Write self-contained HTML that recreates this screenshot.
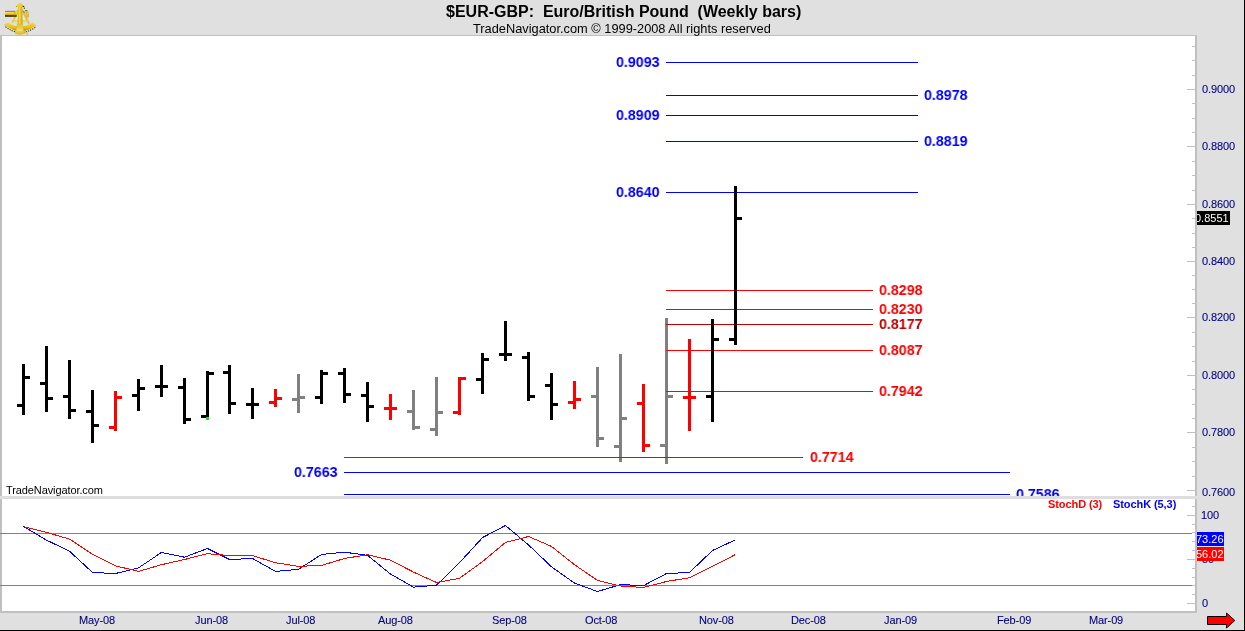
<!DOCTYPE html>
<html><head><meta charset="utf-8"><title>$EUR-GBP</title>
<style>
html,body{margin:0;padding:0;}
body{width:1245px;height:631px;overflow:hidden;background:#e0e0e0;position:relative;font-family:"Liberation Sans",sans-serif;}
svg{position:absolute;left:0;top:0;}
.t{position:absolute;white-space:pre;line-height:1;will-change:transform;}
.b14{font-size:15px;font-weight:bold;transform:scaleX(0.95);transform-origin:0 0;}
.ax{font-size:11px;color:#000080;letter-spacing:-0.12px;-webkit-text-stroke:0.1px #000080;}
</style></head><body>

<svg width="1245" height="631" viewBox="0 0 1245 631" shape-rendering="crispEdges">
<rect x="0" y="35" width="1197" height="578" fill="#c0c0c0"/>
<rect x="2" y="36" width="1193" height="460" fill="#ffffff"/>
<rect x="0" y="496" width="1197" height="3" fill="#dedede"/>
<rect x="2" y="499" width="1193" height="112" fill="#ffffff"/>
<rect x="0" y="613" width="1197" height="20" fill="#e0e0e0"/>
<rect x="1244" y="0" width="1" height="631" fill="#000"/>
<rect x="0" y="630" width="1245" height="1" fill="#000"/>
<rect x="1187" y="89" width="8" height="1" fill="#c0c0c0"/>
<rect x="1192" y="103" width="3" height="1" fill="#c0c0c0"/>
<rect x="1192" y="118" width="3" height="1" fill="#c0c0c0"/>
<rect x="1192" y="132" width="3" height="1" fill="#c0c0c0"/>
<rect x="1187" y="146" width="8" height="1" fill="#c0c0c0"/>
<rect x="1192" y="161" width="3" height="1" fill="#c0c0c0"/>
<rect x="1192" y="175" width="3" height="1" fill="#c0c0c0"/>
<rect x="1192" y="190" width="3" height="1" fill="#c0c0c0"/>
<rect x="1187" y="204" width="8" height="1" fill="#c0c0c0"/>
<rect x="1192" y="218" width="3" height="1" fill="#c0c0c0"/>
<rect x="1192" y="233" width="3" height="1" fill="#c0c0c0"/>
<rect x="1192" y="247" width="3" height="1" fill="#c0c0c0"/>
<rect x="1187" y="261" width="8" height="1" fill="#c0c0c0"/>
<rect x="1192" y="275" width="3" height="1" fill="#c0c0c0"/>
<rect x="1192" y="289" width="3" height="1" fill="#c0c0c0"/>
<rect x="1192" y="303" width="3" height="1" fill="#c0c0c0"/>
<rect x="1187" y="317" width="8" height="1" fill="#c0c0c0"/>
<rect x="1192" y="332" width="3" height="1" fill="#c0c0c0"/>
<rect x="1192" y="346" width="3" height="1" fill="#c0c0c0"/>
<rect x="1192" y="361" width="3" height="1" fill="#c0c0c0"/>
<rect x="1187" y="375" width="8" height="1" fill="#c0c0c0"/>
<rect x="1192" y="389" width="3" height="1" fill="#c0c0c0"/>
<rect x="1192" y="404" width="3" height="1" fill="#c0c0c0"/>
<rect x="1192" y="418" width="3" height="1" fill="#c0c0c0"/>
<rect x="1187" y="432" width="8" height="1" fill="#c0c0c0"/>
<rect x="1192" y="447" width="3" height="1" fill="#c0c0c0"/>
<rect x="1192" y="461" width="3" height="1" fill="#c0c0c0"/>
<rect x="1192" y="476" width="3" height="1" fill="#c0c0c0"/>
<rect x="1187" y="490" width="8" height="1" fill="#c0c0c0"/>
<rect x="1192" y="75" width="3" height="1" fill="#c0c0c0"/>
<rect x="1192" y="60" width="3" height="1" fill="#c0c0c0"/>
<rect x="1192" y="46" width="3" height="1" fill="#c0c0c0"/>
<rect x="1187" y="603" width="8" height="1" fill="#c0c0c0"/>
<rect x="1192" y="594" width="3" height="1" fill="#c0c0c0"/>
<rect x="1192" y="585" width="3" height="1" fill="#c0c0c0"/>
<rect x="1192" y="577" width="3" height="1" fill="#c0c0c0"/>
<rect x="1192" y="568" width="3" height="1" fill="#c0c0c0"/>
<rect x="1187" y="559" width="8" height="1" fill="#c0c0c0"/>
<rect x="1192" y="550" width="3" height="1" fill="#c0c0c0"/>
<rect x="1192" y="541" width="3" height="1" fill="#c0c0c0"/>
<rect x="1192" y="532" width="3" height="1" fill="#c0c0c0"/>
<rect x="1192" y="524" width="3" height="1" fill="#c0c0c0"/>
<rect x="1187" y="515" width="8" height="1" fill="#c0c0c0"/>
<rect x="1192" y="506" width="3" height="1" fill="#c0c0c0"/>
<rect x="0" y="533" width="1192" height="1" fill="#808080"/>
<rect x="0" y="585" width="1192" height="1" fill="#808080"/>
<rect x="114" y="391" width="3" height="40" fill="#ff0000"/>
<rect x="109" y="426" width="5" height="3" fill="#ff0000"/>
<rect x="117" y="396" width="5" height="3" fill="#ff0000"/>
<rect x="274" y="389" width="3" height="18" fill="#ff0000"/>
<rect x="269" y="401" width="5" height="3" fill="#ff0000"/>
<rect x="277" y="397" width="5" height="3" fill="#ff0000"/>
<rect x="297" y="374" width="3" height="39" fill="#808080"/>
<rect x="292" y="398" width="5" height="3" fill="#808080"/>
<rect x="300" y="396" width="5" height="3" fill="#808080"/>
<rect x="389" y="394" width="3" height="26" fill="#ff0000"/>
<rect x="384" y="407" width="5" height="3" fill="#ff0000"/>
<rect x="392" y="407" width="5" height="3" fill="#ff0000"/>
<rect x="412" y="390" width="3" height="40" fill="#808080"/>
<rect x="407" y="410" width="5" height="3" fill="#808080"/>
<rect x="415" y="426" width="5" height="3" fill="#808080"/>
<rect x="435" y="377" width="3" height="59" fill="#808080"/>
<rect x="430" y="428" width="5" height="3" fill="#808080"/>
<rect x="438" y="411" width="5" height="3" fill="#808080"/>
<rect x="458" y="377" width="3" height="38" fill="#ff0000"/>
<rect x="453" y="411" width="5" height="3" fill="#ff0000"/>
<rect x="461" y="377" width="5" height="3" fill="#ff0000"/>
<rect x="573" y="381" width="3" height="28" fill="#ff0000"/>
<rect x="568" y="401" width="5" height="3" fill="#ff0000"/>
<rect x="576" y="398" width="5" height="3" fill="#ff0000"/>
<rect x="596" y="367" width="3" height="80" fill="#808080"/>
<rect x="591" y="395" width="5" height="3" fill="#808080"/>
<rect x="599" y="437" width="5" height="3" fill="#808080"/>
<rect x="619" y="354" width="3" height="108" fill="#808080"/>
<rect x="614" y="445" width="5" height="3" fill="#808080"/>
<rect x="622" y="417" width="5" height="3" fill="#808080"/>
<rect x="642" y="384" width="3" height="68" fill="#ff0000"/>
<rect x="637" y="402" width="5" height="3" fill="#ff0000"/>
<rect x="645" y="444" width="5" height="3" fill="#ff0000"/>
<rect x="665" y="318" width="3" height="146" fill="#808080"/>
<rect x="660" y="444" width="5" height="3" fill="#808080"/>
<rect x="668" y="395" width="5" height="3" fill="#808080"/>
<rect x="688" y="339" width="3" height="92" fill="#ff0000"/>
<rect x="683" y="396" width="5" height="3" fill="#ff0000"/>
<rect x="691" y="396" width="5" height="3" fill="#ff0000"/>
<rect x="666" y="62" width="252" height="1" fill="#0000ff"/>
<rect x="666" y="95" width="252" height="1" fill="#0000ff"/>
<rect x="666" y="115" width="252" height="1" fill="#0000ff"/>
<rect x="666" y="141" width="252" height="1" fill="#0000ff"/>
<rect x="666" y="192" width="252" height="1" fill="#0000ff"/>
<rect x="344" y="472" width="666" height="1" fill="#0000ff"/>
<rect x="344" y="494" width="666" height="1" fill="#0000ff"/>
<rect x="666" y="290" width="207" height="1" fill="#ff0000"/>
<rect x="666" y="309" width="207" height="1" fill="#ff0000"/>
<rect x="666" y="350" width="207" height="1" fill="#ff0000"/>
<rect x="666" y="391" width="207" height="1" fill="#ff0000"/>
<rect x="666" y="324" width="207" height="1" fill="#c00000"/>
<rect x="344" y="457" width="459" height="1" fill="#ff0000"/>
<rect x="22" y="364" width="3" height="51" fill="#000000"/>
<rect x="17" y="404" width="5" height="3" fill="#000000"/>
<rect x="25" y="376" width="5" height="3" fill="#000000"/>
<rect x="45" y="346" width="3" height="66" fill="#000000"/>
<rect x="40" y="382" width="5" height="3" fill="#000000"/>
<rect x="48" y="397" width="5" height="3" fill="#000000"/>
<rect x="68" y="360" width="3" height="59" fill="#000000"/>
<rect x="63" y="395" width="5" height="3" fill="#000000"/>
<rect x="71" y="409" width="5" height="3" fill="#000000"/>
<rect x="91" y="390" width="3" height="53" fill="#000000"/>
<rect x="86" y="410" width="5" height="3" fill="#000000"/>
<rect x="94" y="424" width="5" height="3" fill="#000000"/>
<rect x="137" y="379" width="3" height="32" fill="#000000"/>
<rect x="132" y="394" width="5" height="3" fill="#000000"/>
<rect x="140" y="387" width="5" height="3" fill="#000000"/>
<rect x="160" y="365" width="3" height="32" fill="#000000"/>
<rect x="155" y="385" width="5" height="3" fill="#000000"/>
<rect x="163" y="385" width="5" height="3" fill="#000000"/>
<rect x="183" y="378" width="3" height="46" fill="#000000"/>
<rect x="178" y="386" width="5" height="3" fill="#000000"/>
<rect x="186" y="418" width="5" height="3" fill="#000000"/>
<rect x="206" y="371" width="3" height="49" fill="#000000"/>
<rect x="201" y="415" width="5" height="3" fill="#000000"/>
<rect x="209" y="372" width="5" height="3" fill="#000000"/>
<rect x="228" y="365" width="3" height="49" fill="#000000"/>
<rect x="223" y="371" width="5" height="3" fill="#000000"/>
<rect x="231" y="402" width="5" height="3" fill="#000000"/>
<rect x="251" y="388" width="3" height="31" fill="#000000"/>
<rect x="246" y="403" width="5" height="3" fill="#000000"/>
<rect x="254" y="403" width="5" height="3" fill="#000000"/>
<rect x="320" y="370" width="3" height="34" fill="#000000"/>
<rect x="315" y="396" width="5" height="3" fill="#000000"/>
<rect x="323" y="372" width="5" height="3" fill="#000000"/>
<rect x="343" y="368" width="3" height="35" fill="#000000"/>
<rect x="338" y="372" width="5" height="3" fill="#000000"/>
<rect x="346" y="393" width="5" height="3" fill="#000000"/>
<rect x="366" y="382" width="3" height="40" fill="#000000"/>
<rect x="361" y="394" width="5" height="3" fill="#000000"/>
<rect x="369" y="405" width="5" height="3" fill="#000000"/>
<rect x="481" y="353" width="3" height="41" fill="#000000"/>
<rect x="476" y="378" width="5" height="3" fill="#000000"/>
<rect x="484" y="358" width="5" height="3" fill="#000000"/>
<rect x="504" y="321" width="3" height="40" fill="#000000"/>
<rect x="499" y="353" width="5" height="3" fill="#000000"/>
<rect x="507" y="353" width="5" height="3" fill="#000000"/>
<rect x="527" y="352" width="3" height="49" fill="#000000"/>
<rect x="522" y="356" width="5" height="3" fill="#000000"/>
<rect x="530" y="395" width="5" height="3" fill="#000000"/>
<rect x="550" y="373" width="3" height="47" fill="#000000"/>
<rect x="545" y="384" width="5" height="3" fill="#000000"/>
<rect x="553" y="403" width="5" height="3" fill="#000000"/>
<rect x="711" y="319" width="3" height="103" fill="#000000"/>
<rect x="706" y="395" width="5" height="3" fill="#000000"/>
<rect x="714" y="338" width="5" height="3" fill="#000000"/>
<rect x="734" y="186" width="3" height="159" fill="#000000"/>
<rect x="729" y="338" width="5" height="3" fill="#000000"/>
<rect x="737" y="217" width="5" height="3" fill="#000000"/>
<rect x="206" y="417" width="3" height="3" fill="#00f000"/>
</svg>
<svg width="1245" height="631" viewBox="0 0 1245 631" shape-rendering="crispEdges">
<polyline points="23.5,526.5 46.5,540.1 69.5,551.2 92.5,572.5 115.5,573.5 138.5,567.9 161.5,552.4 184.5,557.2 207.5,548.5 229.5,559.5 252.5,558.5 275.5,571.4 298.5,569.3 321.5,554.5 344.5,552.2 367.5,555.3 390.5,574.1 413.5,587.1 436.5,585.2 459.5,562.7 482.5,537.6 505.5,525.5 528.5,544.9 551.5,566.8 574.5,583.1 597.5,591.5 620.5,584.6 643.5,585.6 666.5,573.5 689.5,572.5 712.5,550.5 735.5,539.8" fill="none" stroke="#0000ff" stroke-width="1"/>
<polyline points="23.5,526.7 46.5,532.4 69.5,539.1 92.5,554.3 115.5,565.8 138.5,571.4 161.5,564.7 184.5,559.5 207.5,553.7 229.5,555.6 252.5,555.6 275.5,562.7 298.5,566.4 321.5,565.4 344.5,558.5 367.5,554.7 390.5,560.2 413.5,572.1 436.5,582.5 459.5,578.3 482.5,561.6 505.5,542.4 528.5,536.5 551.5,546.4 574.5,564.7 597.5,580.4 620.5,586.0 643.5,587.5 666.5,581.5 689.5,577.7 712.5,566.4 735.5,554.5" fill="none" stroke="#ff0000" stroke-width="1"/>
</svg>
<svg width="40" height="36" viewBox="0 0 40 36" style="left:0;top:0;">
<defs>
<linearGradient id="gA" x1="0" y1="0" x2="1" y2="0"><stop offset="0" stop-color="#d4ac08"/><stop offset="0.4" stop-color="#f4da38"/><stop offset="0.75" stop-color="#e2bc14"/><stop offset="1" stop-color="#b08a00"/></linearGradient>
<linearGradient id="gB" x1="0" y1="0" x2="0" y2="1"><stop offset="0" stop-color="#e6c420"/><stop offset="0.5" stop-color="#ecd458"/><stop offset="1" stop-color="#e2c020"/></linearGradient>
<linearGradient id="gT" x1="0" y1="0" x2="0" y2="1"><stop offset="0" stop-color="#f2dc50"/><stop offset="0.3" stop-color="#f0d430"/><stop offset="0.62" stop-color="#c8a000"/><stop offset="0.76" stop-color="#3c2e00"/><stop offset="1" stop-color="#1e1600"/></linearGradient>
<linearGradient id="gL" x1="0" y1="0" x2="0" y2="1"><stop offset="0" stop-color="#f6de40"/><stop offset="0.65" stop-color="#e4bc10"/><stop offset="1" stop-color="#a88400"/></linearGradient>
</defs>
<!-- pale glints between legs -->
<path d="M14.2 20.2 L17.5 14 L17.5 20.2 Z M22.6 13 L26.4 20.2 L22.6 20.2 Z" fill="#e6e2ec"/>
<!-- frame legs -->
<path d="M18.3 11.5 L12 22.6" stroke="#e8c828" stroke-width="1.6" fill="none"/>
<path d="M16.4 11.6 L18.6 9.6" stroke="#e8c828" stroke-width="1.6" fill="none"/>
<path d="M22 9.8 L29 23.6" stroke="#e4c220" stroke-width="2" fill="none"/>
<path d="M13 20.9 H28.4" stroke="#ecd040" stroke-width="1.3" fill="none"/>
<path d="M13.6 22.3 H27.6" stroke="#d8d2f4" stroke-width="0.7" fill="none"/>
<!-- mirror bracket -->
<path d="M25 10.6 L27.6 10.4 L28.6 13.4 L28.4 17.6 L26.4 16.4 L26.2 13.5 Z" fill="#e6c62c" stroke="#c09c08" stroke-width="0.4"/>
<rect x="25.2" y="10" width="2" height="0.9" fill="#6a6450"/>
<path d="M23.4 11 L24.6 13" stroke="#8078d8" stroke-width="1.3"/>
<!-- limb arc shadow -->
<path d="M5.4 26.6 Q20 38 35.3 27.4" stroke="#4a3a00" stroke-width="1.1" fill="none" stroke-dasharray="1.3 1.1"/>
<!-- limb arc -->
<path d="M4.5 24.7 L7.9 22.2 Q20 30.8 32.8 22.2 L35.9 25.8 Q20 37 4.5 24.7 Z" fill="url(#gL)"/>
<path d="M4.3 24.6 L5.2 25.6" stroke="#9a92d0" stroke-width="0.8"/>
<path d="M35.4 26.6 L36 25.9" stroke="#9a92d0" stroke-width="0.7"/>
<!-- telescope -->
<rect x="5" y="10.8" width="10.4" height="1.2" fill="#8a80d0"/>
<rect x="5" y="11.9" width="11.7" height="4.9" rx="0.5" fill="url(#gT)"/>
<rect x="14.5" y="11.9" width="0.8" height="4.4" fill="#b89400" opacity="0.7"/>
<!-- index arm -->
<path d="M18.1 6.9 H22.1 L22.5 24 H17.6 Z" fill="url(#gA)"/>
<path d="M17.5 24 H22.6 L24.4 33.6 Q19.7 35.4 15 33.6 Z" fill="url(#gB)" stroke="#c8a410" stroke-width="0.3"/>
<rect x="17.3" y="29.5" width="5" height="1.6" fill="#efe08a" opacity="0.8"/>
<!-- top knob -->
<path d="M16.8 6.9 L17.4 4.6 L19.8 2.8 L22.4 4 L23.6 6.9 Z" fill="#efd030"/>
<path d="M15.9 6 H17.1 V7 H15.9 Z" fill="#b89400"/>
<path d="M22.5 5.8 L24.2 6 L24.2 6.9 L22.7 7 Z" fill="#1e1600"/>
<path d="M23.8 7.6 H24.8 V8.9 H23.8 Z" fill="#5a4600"/>
<!-- bottom knob -->
<path d="M24.6 32.4 H28 V35 H26.9 V33.8 H24.6 Z" fill="#e8c628"/>
</svg>
<svg width="1245" height="631" viewBox="0 0 1245 631"><path d="M1207.5 616.5H1226.5V613L1234.8 620.5L1226.5 628V624.5H1207.5Z" fill="#ff0000" stroke="#000" stroke-width="1" stroke-linejoin="miter"/></svg>
<div class="t " style="left:446px;top:4px;font-size:16px;font-weight:bold;color:#000;">$EUR-GBP:  Euro/British Pound  (Weekly bars)</div>
<div class="t " style="left:473px;top:23px;font-size:12.8px;color:#000;">TradeNavigator.com © 1999-2008 All rights reserved</div>
<div class="t b14" style="left:616px;top:54px;color:#0000ff;">0.9093</div>
<div class="t b14" style="left:616px;top:107px;color:#0000ff;">0.8909</div>
<div class="t b14" style="left:616px;top:184px;color:#0000ff;">0.8640</div>
<div class="t b14" style="left:294px;top:464px;color:#0000ff;">0.7663</div>
<div class="t b14" style="left:924px;top:87px;color:#0000ff;">0.8978</div>
<div class="t b14" style="left:924px;top:133px;color:#0000ff;">0.8819</div>
<div style="position:absolute;left:1010px;top:480px;width:100px;height:16px;overflow:hidden;"><div class="t b14" style="left:6px;top:6px;color:#0000ff;">0.7586</div></div>
<div class="t b14" style="left:879px;top:282px;color:#ff0000;">0.8298</div>
<div class="t b14" style="left:879px;top:301px;color:#ff0000;">0.8230</div>
<div class="t b14" style="left:879px;top:316px;color:#c00000;">0.8177</div>
<div class="t b14" style="left:879px;top:342px;color:#ff0000;">0.8087</div>
<div class="t b14" style="left:879px;top:383px;color:#ff0000;">0.7942</div>
<div class="t b14" style="left:810px;top:449px;color:#ff0000;">0.7714</div>
<div class="t ax" style="left:1202px;top:84px;">0.9000</div>
<div class="t ax" style="left:1202px;top:141px;">0.8800</div>
<div class="t ax" style="left:1202px;top:199px;">0.8600</div>
<div class="t ax" style="left:1202px;top:256px;">0.8400</div>
<div class="t ax" style="left:1202px;top:312px;">0.8200</div>
<div class="t ax" style="left:1202px;top:370px;">0.8000</div>
<div class="t ax" style="left:1202px;top:427px;">0.7800</div>
<div class="t ax" style="left:1202px;top:487px;">0.7600</div>
<div class="t ax" style="left:1201px;top:510px;">100</div>
<div class="t ax" style="left:1202px;top:554px;">50</div>
<div class="t ax" style="left:1202px;top:598px;">0</div>
<div class="t" style="left:1197px;top:211px;width:33px;height:14px;background:#000;color:#fff;font-size:11px;overflow:hidden;"><span style="position:absolute;left:-2px;top:2px;">0.8551</span></div>
<div class="t" style="left:1197px;top:532px;width:27px;height:14px;background:#0000ff;color:#fff;font-size:11px;overflow:hidden;"><span style="position:absolute;left:-1px;top:2px;">73.26</span></div>
<div class="t" style="left:1197px;top:547px;width:27px;height:14px;background:#ff0000;color:#fff;font-size:11px;overflow:hidden;"><span style="position:absolute;left:-1px;top:2px;">56.02</span></div>
<div class="t " style="left:1048px;top:499px;font-size:11px;font-weight:bold;color:#ff0000;letter-spacing:-0.08px;">StochD (3)</div>
<div class="t " style="left:1113px;top:499px;font-size:11px;font-weight:bold;color:#0000ff;letter-spacing:-0.08px;">StochK (5,3)</div>
<div class="t " style="left:6px;top:485px;font-size:11px;color:#000;letter-spacing:-0.1px;">TradeNavigator.com</div>
<div class="t ax" style="left:79px;top:615px;">May-08</div>
<div class="t ax" style="left:195px;top:615px;">Jun-08</div>
<div class="t ax" style="left:286px;top:615px;">Jul-08</div>
<div class="t ax" style="left:378px;top:615px;">Aug-08</div>
<div class="t ax" style="left:492px;top:615px;">Sep-08</div>
<div class="t ax" style="left:585px;top:615px;">Oct-08</div>
<div class="t ax" style="left:699px;top:615px;">Nov-08</div>
<div class="t ax" style="left:791px;top:615px;">Dec-08</div>
<div class="t ax" style="left:884px;top:615px;">Jan-09</div>
<div class="t ax" style="left:997px;top:615px;">Feb-09</div>
<div class="t ax" style="left:1089px;top:615px;">Mar-09</div>
</body></html>
